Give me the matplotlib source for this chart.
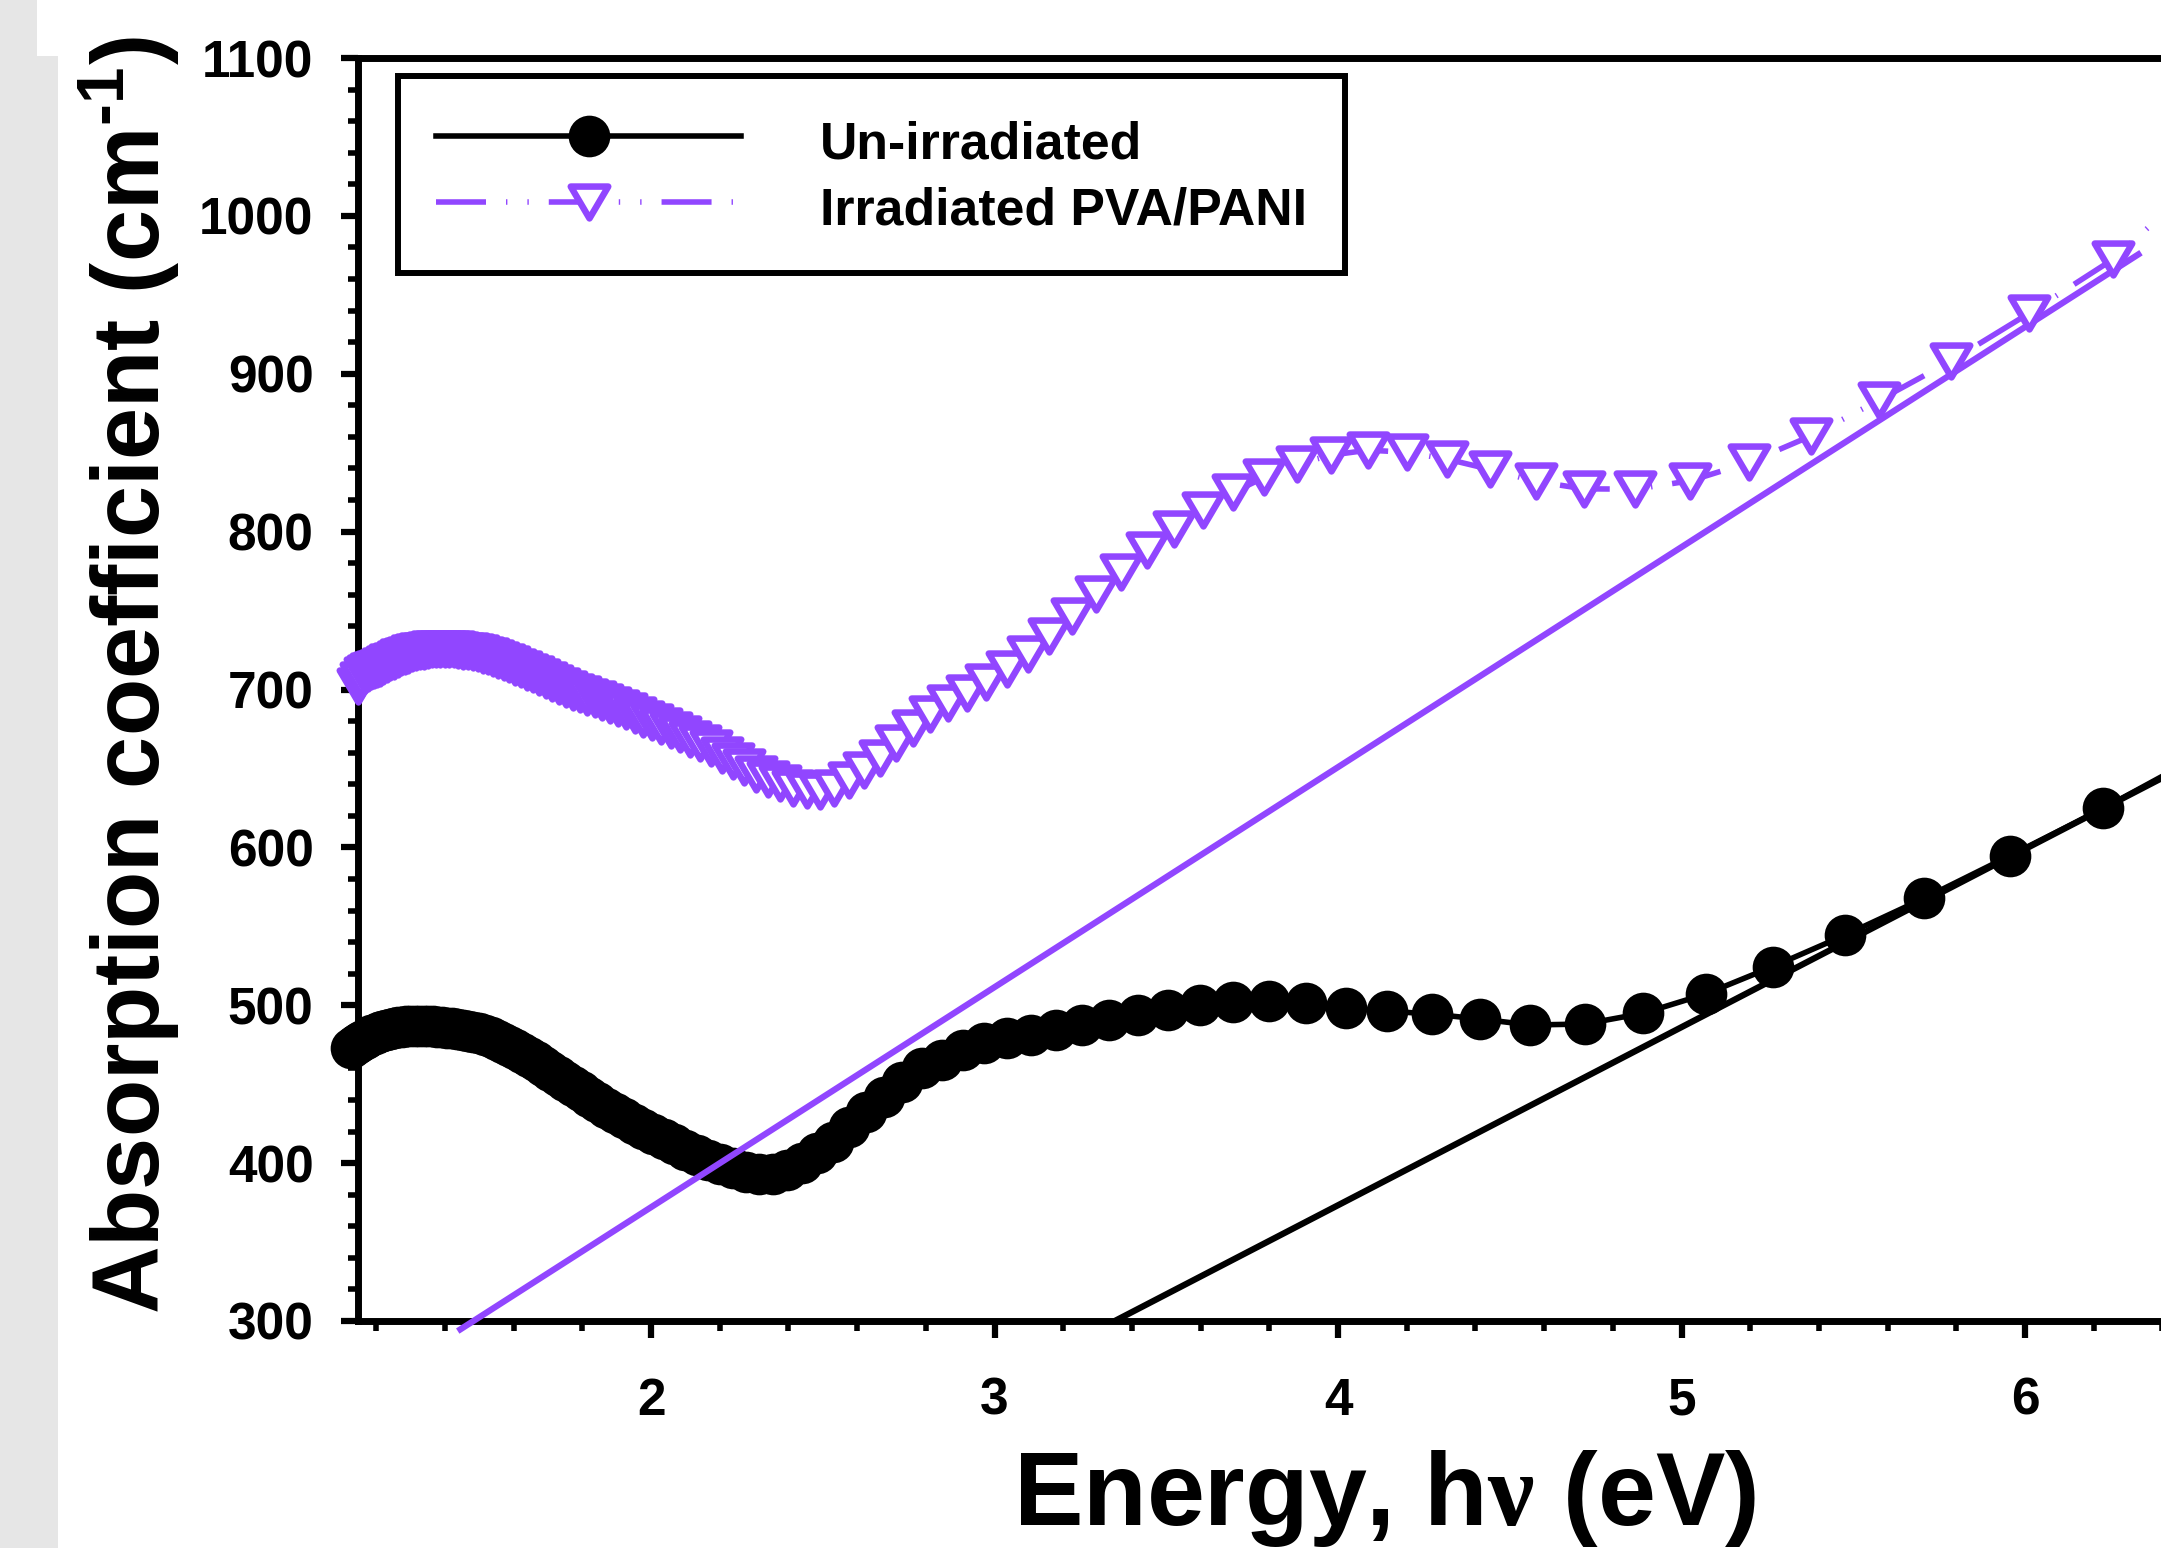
import matplotlib
matplotlib.use('Agg')
import matplotlib.pyplot as plt
from matplotlib.ticker import MultipleLocator
from matplotlib.markers import MarkerStyle
from matplotlib.path import Path
from matplotlib.patches import Rectangle

plt.rcParams['font.family'] = ['Liberation Sans', 'DejaVu Sans']
plt.rcParams['font.weight'] = 'bold'
plt.rcParams['mathtext.fontset'] = 'custom'
plt.rcParams['mathtext.rm'] = 'Liberation Sans:bold'
plt.rcParams['mathtext.bf'] = 'Liberation Sans:bold'
plt.rcParams['mathtext.it'] = 'Liberation Serif:bold'
plt.rcParams['mathtext.default'] = 'bf'

# ---------------- data ----------------
energy_unirr = [1.127, 1.137, 1.146, 1.156, 1.166, 1.176, 1.186, 1.197, 1.207, 1.218,
                1.229, 1.240, 1.252, 1.263, 1.275, 1.287, 1.299, 1.312, 1.325, 1.338,
                1.351, 1.364, 1.378, 1.392, 1.407, 1.421, 1.436, 1.452, 1.467, 1.483,
                1.499, 1.516, 1.533, 1.551, 1.568, 1.587, 1.605, 1.625, 1.644, 1.664,
                1.685, 1.706, 1.728, 1.750, 1.772, 1.796, 1.820, 1.844, 1.870, 1.896,
                1.922, 1.950, 1.978, 2.007, 2.037, 2.068, 2.100, 2.133, 2.167, 2.202,
                2.238, 2.276, 2.314, 2.354, 2.396, 2.439, 2.483, 2.529, 2.577, 2.627,
                2.678, 2.732, 2.788, 2.846, 2.907, 2.970, 3.036, 3.105, 3.178, 3.254,
                3.333, 3.417, 3.505, 3.597, 3.695, 3.798, 3.907, 4.022, 4.144, 4.274,
                4.413, 4.560, 4.718, 4.888, 5.070, 5.265, 5.477, 5.706, 5.956, 6.228,
                6.526]
alpha_unirr = [473.0, 474.6, 476.0, 477.4, 478.7, 479.9, 481.0, 482.0, 482.9, 483.7,
               484.4, 485.0, 485.6, 486.0, 486.4, 486.7, 486.9, 487.0, 487.1, 487.1,
               487.0, 486.8, 486.5, 486.2, 485.8, 485.4, 484.9, 484.3, 483.7, 483.1,
               482.5, 481.3, 479.9, 478.2, 476.4, 474.3, 472.1, 469.7, 467.2, 464.5,
               461.6, 458.6, 455.5, 452.3, 449.0, 445.5, 442.0, 438.5, 434.9, 431.6,
               428.3, 425.0, 421.7, 418.5, 415.2, 411.9, 408.6, 405.3, 402.1, 399.2,
               396.6, 394.6, 393.4, 393.4, 395.6, 399.9, 406.2, 413.6, 423.1, 432.6,
               442.1, 451.6, 460.0, 465.3, 471.6, 475.9, 479.0, 481.1, 484.3, 487.5,
               490.6, 493.8, 497.0, 500.1, 502.2, 502.9, 501.2, 498.4, 496.3, 494.4,
               491.3, 487.5, 488.1, 494.9, 507.1, 524.4, 544.5, 567.7, 594.7, 624.7,
               660.0]

energy_irr = [1.148, 1.157, 1.166, 1.175, 1.184, 1.193, 1.202, 1.212, 1.221, 1.231,
              1.241, 1.251, 1.262, 1.272, 1.283, 1.294, 1.304, 1.316, 1.327, 1.339,
              1.350, 1.362, 1.375, 1.387, 1.400, 1.413, 1.426, 1.439, 1.453, 1.467,
              1.481, 1.495, 1.510, 1.525, 1.541, 1.556, 1.572, 1.588, 1.605, 1.622,
              1.639, 1.657, 1.675, 1.694, 1.713, 1.732, 1.752, 1.772, 1.793, 1.814,
              1.836, 1.858, 1.881, 1.904, 1.928, 1.953, 1.978, 2.004, 2.030, 2.057,
              2.085, 2.114, 2.144, 2.174, 2.206, 2.238, 2.271, 2.305, 2.340, 2.376,
              2.414, 2.453, 2.492, 2.534, 2.576, 2.620, 2.666, 2.713, 2.762, 2.813,
              2.865, 2.920, 2.976, 3.035, 3.097, 3.160, 3.227, 3.296, 3.369, 3.445,
              3.524, 3.607, 3.694, 3.785, 3.881, 3.981, 4.088, 4.200, 4.318, 4.443,
              4.576, 4.716, 4.866, 5.026, 5.196, 5.378, 5.574, 5.784, 6.011, 6.257,
              6.523]
alpha_irr = [702.0, 706.0, 709.0, 710.5, 711.5, 712.3, 713.0, 713.8, 714.8, 716.0,
             717.2, 718.3, 719.4, 720.4, 721.3, 722.1, 722.9, 723.6, 724.2, 724.7,
             725.1, 725.4, 725.6, 725.7, 725.7, 725.6, 725.4, 725.1, 724.7, 724.2,
             723.6, 722.9, 722.1, 721.2, 720.0, 718.8, 717.4, 716.0, 714.5, 712.9,
             711.3, 709.6, 707.9, 706.1, 704.2, 702.3, 700.4, 698.7, 697.0, 695.3,
             694.0, 692.3, 690.4, 688.3, 686.1, 683.8, 681.5, 679.1, 676.6, 674.1,
             671.5, 668.8, 665.9, 662.8, 658.5, 654.6, 650.6, 646.6, 643.3, 640.6,
             637.8, 636.3, 635.7, 637.4, 642.4, 648.8, 656.8, 666.3, 675.8, 684.2,
             691.6, 697.9, 704.9, 713.2, 722.2, 733.8, 746.5, 760.2, 774.5, 788.3,
             801.6, 813.4, 824.8, 834.3, 842.8, 848.5, 851.6, 850.3, 845.9, 839.4,
             831.8, 827.1, 826.9, 832.2, 843.8, 860.7, 883.1, 908.0, 938.2, 972.6,
             1025.0]

# linear (band-edge) fits
fit_unirr_energy = [3.35, 6.60]
fit_unirr_alpha = [300.0, 666.6]
fit_irr_energy = [1.445, 6.33]
fit_irr_alpha = [294.7, 975.6]

labels = ['Un-irradiated', 'Irradiated PVA/PANI']
x_ticks = [2, 3, 4, 5, 6]
y_ticks = [300, 400, 500, 600, 700, 800, 900, 1000, 1100]

# ---------------- figure ----------------
W, H = 2161, 1548
fig = plt.figure(figsize=(W / 100, H / 100), dpi=100)
fig.patch.set_facecolor('white')
gray = '#e6e6e6'
fig.patches.append(Rectangle((0, 0), 58 / W, 1 - 56 / H, transform=fig.transFigure,
                             facecolor=gray, edgecolor='none', zorder=-10))
fig.patches.append(Rectangle((0, 1 - 56 / H), 37 / W, 56 / H, transform=fig.transFigure,
                             facecolor=gray, edgecolor='none', zorder=-10))

x0, x1 = 1.147, 6.60
px_per_ev = 343.5
left = 358 / W
bottom = 1 - 1321 / H
height = (1321 - 58) / H
width = (x1 - x0) * px_per_ev / W
ax = fig.add_axes([left, bottom, width, height])
ax.set_xlim(x0, x1)
ax.set_ylim(300, 1100)

purple = '#9146ff'

tri_path = Path([(-1, 0.85), (1, 0.85), (0, -0.85), (-1, 0.85)],
                [Path.MOVETO, Path.LINETO, Path.LINETO, Path.CLOSEPOLY])
tri_marker = MarkerStyle(tri_path, joinstyle='round')

ax.plot(fit_unirr_energy, fit_unirr_alpha, color='black', lw=4.5, zorder=2)
ax.plot(energy_unirr, alpha_unirr, color='black', lw=4.0, marker='o', ms=30,
        mfc='black', mec='black', mew=0, clip_on=False, zorder=3, label=labels[0])
ax.plot(fit_irr_energy, fit_irr_alpha, color=purple, lw=4.5, zorder=4, clip_on=False)
ax.plot(energy_irr, alpha_irr, color=purple, lw=4.0,
        ls=(0, (9, 3.6, 0.25, 3.6, 0.25, 3.6)),
        marker=tri_marker, ms=27, mfc='white', mec=purple, mew=4.7,
        clip_on=False, zorder=5, label=labels[1])

for s in ax.spines.values():
    s.set_linewidth(5)
ax.xaxis.set_major_locator(plt.FixedLocator(x_ticks))
ax.yaxis.set_major_locator(plt.FixedLocator(y_ticks))
ax.xaxis.set_minor_locator(MultipleLocator(0.2))
ax.yaxis.set_minor_locator(MultipleLocator(20))
ax.tick_params(which='major', direction='out', length=12, width=4.5, labelsize=37,
               top=False, right=False)
ax.tick_params(which='minor', direction='out', length=7, width=4, top=False, right=False)
ax.tick_params(axis='x', which='major', pad=28)
ax.tick_params(axis='y', which='major', pad=20)
for lab in ax.get_xticklabels() + ax.get_yticklabels():
    lab.set_fontweight('bold')

leg = ax.legend(loc='upper left', bbox_to_anchor=(398 / W, 1 - 76 / H),
                bbox_transform=fig.transFigure, borderaxespad=0, frameon=True,
                fancybox=False, edgecolor='black', framealpha=1, fontsize=37.3,
                handlelength=5.9, handleheight=1.25, handletextpad=1.52,
                borderpad=0.73, labelspacing=0.19, numpoints=1)
leg.get_frame().set_linewidth(4.3)
for t in leg.get_texts():
    t.set_fontweight('bold')

fig.text(182 / W, 1 - 675 / H, r'Absorption coefficient (cm$^{\text{-1}}$)',
         rotation=90, ha='right', va='center', fontsize=67.5, fontweight='bold')
fig.text(1385 / W, 1 - 1525 / H, r'Energy, h$\mathit{\nu}$ (eV)',
         ha='center', va='baseline', fontsize=75, fontweight='bold')

fig.savefig('out.png', dpi=100)
